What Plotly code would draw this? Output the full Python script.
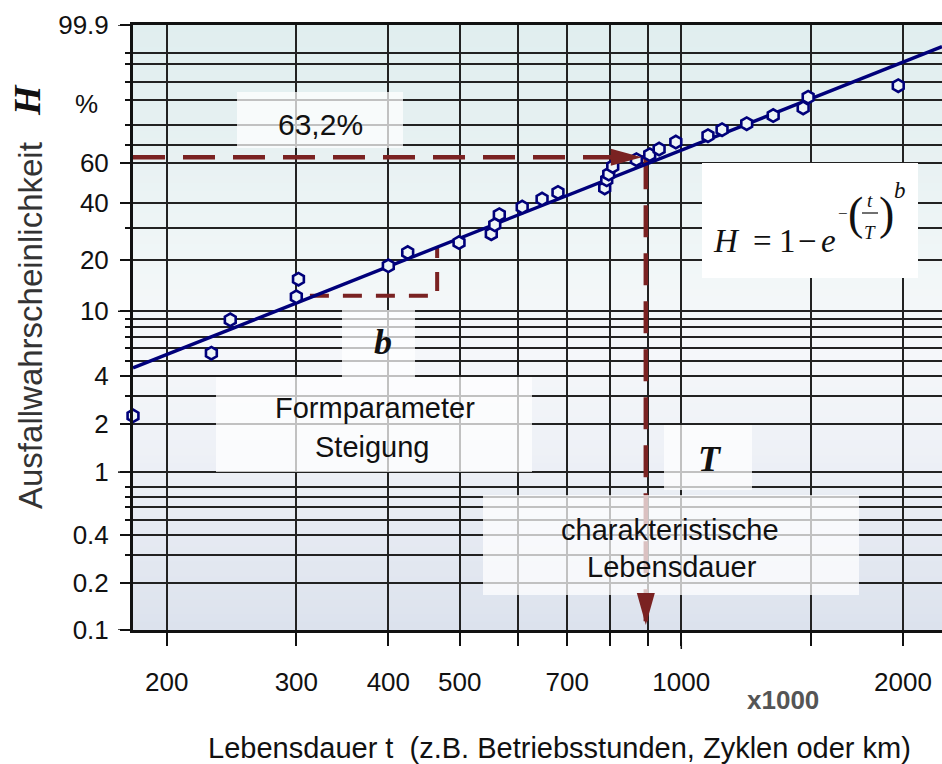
import numpy as np
import plotly.graph_objects as go

# ---------------- data (t in thousands, H in percent) ----------------
life_t = [180, 230, 244, 300, 302, 400, 425, 499, 552, 558, 566, 608, 647, 680,
          787, 792, 797, 807, 869, 906, 933, 983, 1087, 1136, 1227, 1333, 1464,
          1487, 1971, 2288]
fail_H = [2.26, 5.55, 8.88, 12.2, 15.5, 18.5, 22.0, 25.0, 27.9, 31.1, 35.1, 38.3,
          41.9, 45.0, 47.2, 51.3, 54.3, 58.3, 61.9, 64.6, 67.6, 71.3, 74.6, 77.6,
          80.5, 84.1, 87.2, 91.0, 94.2, 97.8]
fit_t = [180, 2260]
fit_H = [4.5, 99.35]
T_char = 895
H_char = 63.2
slope_t = [313, 466, 466]
slope_H = [12.4, 12.4, 23.4]
x_range_t = [180, 2260]
y_range_H = [0.1, 99.9]
xtick_vals = [200, 300, 400, 500, 700, 1000, 2000]
xtick_text = ["200", "300", "400", "500", "700", "1000", "2000"]
xminor_vals = [600, 800, 900, 1500]
xlong_t = [1000]
ytick_H = [0.1, 0.2, 0.4, 1, 2, 4, 10, 20, 40, 60, 99.9]
ytick_text = ["0.1", "0.2", "0.4", "1", "2", "4", "10", "20", "40", "60", "99.9"]
yminor_H = [0.3, 0.5, 0.6, 0.7, 0.8, 3, 5, 6, 7, 8, 9, 30, 70, 80, 90, 95, 98, 99]
ylong_H = [0.1, 1, 10, 99.9]


def weib(h):
    """Weibull probability scale: ln(-ln(1-H))."""
    return np.log(-np.log(1 - np.asarray(h, dtype=float) / 100.0))


# ---------------- layout geometry ----------------
W, HGT = 942, 764
ML, MR, MT, MB = 133, 0, 25, 134
PW, PH = W - ML - MR, HGT - MT - MB


def fx(px):
    return (px - ML) / PW


def fy(py):
    return (MT + PH - py) / PH


SANS = "Liberation Sans, Arial, sans-serif"
SERIF = "Liberation Serif, Times New Roman, serif"
RED = "#7a2222"
NAVY = "#00007a"
GRID = "#222222"
INK = "#111111"
GW = 1.7

fig = go.Figure()

# dashed guide lines
fig.add_trace(go.Scatter(x=[x_range_t[0], T_char], y=weib([H_char, H_char]),
                         mode="lines", line=dict(color=RED, width=4.5, dash="32px,18px"),
                         hoverinfo="skip", showlegend=False))
fig.add_trace(go.Scatter(x=[T_char, T_char], y=weib([H_char, y_range_H[0]]),
                         mode="lines", line=dict(color=RED, width=4.5, dash="32px,16px"),
                         hoverinfo="skip", showlegend=False))
fig.add_trace(go.Scatter(x=slope_t, y=weib(slope_H),
                         mode="lines", line=dict(color=RED, width=4, dash="19px,14px"),
                         hoverinfo="skip", showlegend=False))
# fitted Weibull line
fig.add_trace(go.Scatter(x=fit_t, y=weib(fit_H), mode="lines",
                         line=dict(color=NAVY, width=3.4), showlegend=False))
# data points
fig.add_trace(go.Scatter(x=life_t, y=weib(fail_H), mode="markers",
                         marker=dict(symbol="hexagon", size=12.5, color="#eef5f7",
                                     line=dict(color=NAVY, width=2.6)),
                         cliponaxis=False, showlegend=False))

shapes = []
# background gradient (below grid)
stops = [(25, (224, 238, 239)), (150, (231, 241, 242)), (280, (242, 247, 248)),
         (360, (245, 247, 250)), (460, (237, 240, 246)), (630, (220, 226, 237))]
nb = 80
for i in range(nb):
    y0 = MT + PH * i / nb
    y1 = MT + PH * (i + 1) / nb
    ym = (y0 + y1) / 2
    for k in range(len(stops) - 1):
        if stops[k][0] <= ym <= stops[k + 1][0]:
            a = (ym - stops[k][0]) / (stops[k + 1][0] - stops[k][0])
            c = [round(stops[k][1][j] + a * (stops[k + 1][1][j] - stops[k][1][j])) for j in range(3)]
            break
    shapes.append(dict(type="rect", xref="paper", yref="paper", x0=0, x1=1,
                       y0=fy(y1) - 0.001, y1=fy(y0) + 0.001, layer="below",
                       line=dict(width=0), fillcolor="rgb(%d,%d,%d)" % tuple(c)))

# longer ticks on y axis and x axis
for h in ylong_H:
    shapes.append(dict(type="line", xref="paper", yref="y", x0=fx(118), x1=fx(124),
                       y0=float(weib(h)), y1=float(weib(h)), line=dict(color=INK, width=1.5)))
for t in xlong_t:
    shapes.append(dict(type="line", xref="x", yref="paper", x0=t, x1=t,
                       y0=fy(649), y1=fy(642), line=dict(color=INK, width=1.5)))

# text boxes (semi-transparent)
boxes = [((237, 92, 403, 148), "rgba(255,255,255,0.72)"),
         ((342, 310, 415, 377), "rgba(255,255,255,0.72)"),
         ((216, 377, 532, 472), "rgba(255,255,255,0.72)"),
         ((664, 425, 752, 490), "rgba(255,255,255,0.72)"),
         ((483, 495, 859, 595), "rgba(255,255,255,0.72)"),
         ((702, 163, 918, 278), "rgba(255,255,255,1)")]
for (x0, y0, x1, y1), col in boxes:
    shapes.append(dict(type="rect", xref="paper", yref="paper", x0=fx(x0), x1=fx(x1),
                       y0=fy(y1), y1=fy(y0), layer="above", line=dict(width=0),
                       fillcolor=col))

# arrow heads
shapes.append(dict(type="path", xref="x", yref="y", xsizemode="pixel", ysizemode="pixel",
                   xanchor=T_char, yanchor=float(weib(H_char)),
                   path="M -35,8.5 L -4,0 L -35,-8.5 Z", fillcolor=RED,
                   line=dict(width=0), layer="above"))
shapes.append(dict(type="path", xref="x", yref="y", xsizemode="pixel", ysizemode="pixel",
                   xanchor=T_char, yanchor=float(weib(y_range_H[0])),
                   path="M -9,37 L 0,5 L 9,37 Z", fillcolor=RED,
                   line=dict(width=0), layer="above"))
# fraction bar in formula
shapes.append(dict(type="line", xref="paper", yref="paper", x0=fx(862), x1=fx(878),
                   y0=fy(213), y1=fy(213), line=dict(color=INK, width=1.2), layer="above"))

ann = []


def txt(text, px, py, size, family=SANS, color=INK, xanchor="center", angle=0,
        weight="normal", style="normal"):
    ann.append(dict(text=text, x=fx(px), y=fy(py), xref="paper", yref="paper",
                    showarrow=False, xanchor=xanchor, yanchor="middle", textangle=angle,
                    font=dict(family=family, size=size, color=color, weight=weight,
                              style=style)))


txt("63,2%", 320, 124, 30)
txt("Formparameter", 375, 408, 29)
txt("Steigung", 372, 447, 29)
txt("charakteristische", 670, 530, 29)
txt("Lebensdauer", 672, 567, 29)
txt("b", 383, 342, 36, family=SERIF, weight="bold", style="italic")
txt("T", 710, 459, 36, family=SERIF, weight="bold", style="italic")
txt("x1000", 783, 700, 26, color="#555555", weight="bold")
txt("Lebensdauer t\u00a0\u00a0(z.B. Betriebsstunden, Zyklen oder km)", 559, 748, 29)
txt("Ausfallwahrscheinlichkeit", 30, 326, 33, color="#333333", angle=-90)
txt("H", 27, 100, 38, family=SERIF, weight="bold", style="italic", angle=-90)
txt("%", 86, 104, 26)
# formula H = 1 - e^-(t/T)^b
for s, cx in [("<i>H</i>", 726.5), ("=", 762.5), ("1", 787), ("\u2212", 807.5), ("<i>e</i>", 828.5)]:
    txt(s, cx, 241, 33, family=SERIF)
txt("\u2212", 843, 213, 17, family=SERIF)
txt("(", 855, 213, 46, family=SERIF)
txt(")", 886, 213, 46, family=SERIF)
txt("<i>t</i>", 870, 200, 19, family=SERIF)
txt("<i>T</i>", 870, 232, 19, family=SERIF)
txt("<i>b</i>", 900, 190, 23, family=SERIF)

fig.update_layout(
    width=W, height=HGT, autosize=False,
    margin=dict(l=ML, r=MR, t=MT, b=MB, pad=0),
    paper_bgcolor="white", plot_bgcolor="white",
    showlegend=False, shapes=shapes, annotations=ann,
    xaxis=dict(type="log", range=[np.log10(x_range_t[0]), np.log10(x_range_t[1])],
               tickmode="array", tickvals=xtick_vals, ticktext=xtick_text,
               ticks="outside", ticklen=13, tickwidth=1.5, tickcolor=INK,
               tickfont=dict(family=SANS, size=26, color=INK), ticklabelstandoff=14,
               showgrid=True, gridcolor=GRID, gridwidth=GW,
               minor=dict(tickmode="array", tickvals=xminor_vals, ticks="outside",
                          ticklen=13, tickwidth=1.5, tickcolor=INK, showgrid=True,
                          gridcolor=GRID, gridwidth=GW),
               showline=True, linewidth=3, linecolor=INK, mirror=True,
               zeroline=False, fixedrange=True),
    yaxis=dict(range=[float(weib(y_range_H[0])), float(weib(y_range_H[1]))],
               tickmode="array", tickvals=[float(v) for v in weib(ytick_H)], ticktext=ytick_text,
               ticks="outside", ticklen=10, tickwidth=1.5, tickcolor=INK,
               tickfont=dict(family=SANS, size=26, color=INK), ticklabelstandoff=6,
               showgrid=True, gridcolor=GRID, gridwidth=GW,
               minor=dict(tickmode="array", tickvals=[float(v) for v in weib(yminor_H)],
                          ticks="outside", ticklen=5, tickwidth=1.5, tickcolor=INK,
                          showgrid=True, gridcolor=GRID, gridwidth=GW),
               showline=True, linewidth=3, linecolor=INK, mirror=False,
               zeroline=False, fixedrange=True),
)

fig.write_html("out.html", config={"displayModeBar": False},
               post_script="document.body.style.margin='0';document.body.style.overflow='hidden';")
